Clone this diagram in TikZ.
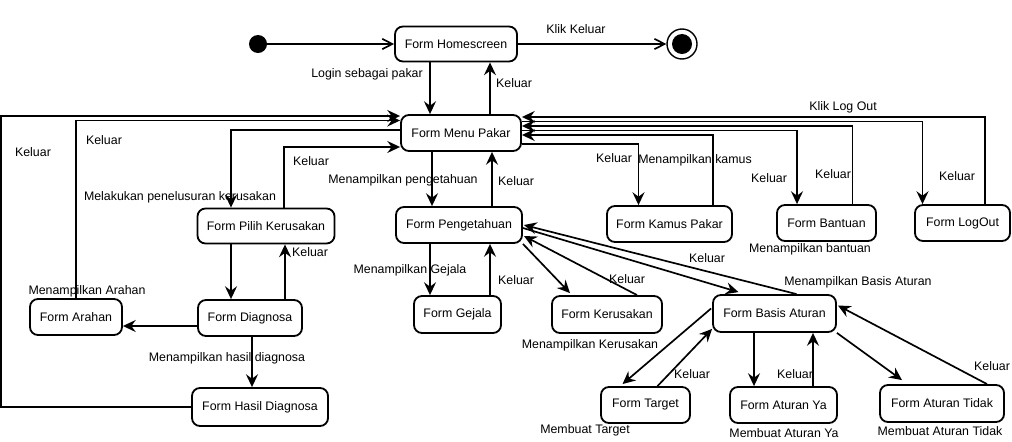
\documentclass[tikz,border=0pt]{standalone}
\usepackage{fontspec}
\setmainfont{Liberation Sans}
\usepackage{tikz}
\usetikzlibrary{
  arrows.meta,
  positioning,
  calc
}
\tikzset{
  formbox/.style={
    draw=black,
    fill=white,
    rounded corners=2mm,
    line width=1.3pt,
    minimum height=9mm,
    align=center,
    font=\fontsize{8.8}{10}\selectfont,
    inner sep=1pt
  },
  lbl/.style={font=\fontsize{8.8}{10}\selectfont,inner sep=0pt},
  arrow/.style={-{Stealth[length=3.2mm,width=3mm,inset=1.1mm]},line width=1.2pt},
  openarrow/.style={-{Straight Barb[length=2.5mm,width=2.6mm]},line width=1.2pt}
}

\begin{document}
\begin{tikzpicture}[x=0.025cm,y=-0.025cm]
  \useasboundingbox (0,0) rectangle (1012,441);

  \node[circle,fill=black,minimum size=0.45cm,inner sep=0pt] (init) at (258,44) {};
  \node[formbox, minimum width=3.05cm, minimum height=0.875cm] (home) at (456,44) {Form Homescreen};
  \node[circle,draw=black,line width=1pt,minimum size=0.75cm,inner sep=0pt] (final) at (682,44) {};
  \node[circle,fill=black,minimum size=0.5cm,inner sep=0pt] (finaldot) at (final) {};

  \node[formbox, minimum width=3cm] (menu) at (461,133) {Form Menu Pakar};
  \node[formbox, minimum width=3.425cm, minimum height=0.875cm] (pilih) at (266,226) {Form Pilih Kerusakan};
  \node[formbox, minimum width=2.6cm] (diag) at (250,318) {Form Diagnosa};
  \node[formbox, minimum width=2.3cm] (arahan) at (76,317) {Form Arahan};
  \node[formbox, minimum width=3.4cm, minimum height=0.95cm] (hasil) at (260,407) {Form Hasil Diagnosa};
  \node[formbox, minimum width=3.15cm] (peng) at (459,225) {Form Pengetahuan};
  \node[formbox, minimum width=2.175cm, minimum height=0.925cm] (gejala) at (457.5,314.5) {Form Gejala};
  \node[formbox, minimum width=2.75cm, minimum height=0.925cm] (kerusakan) at (607,314.5) {Form Kerusakan};
  \node[formbox, minimum width=3.075cm, minimum height=0.925cm] (basis) at (774.5,313.5) {Form Basis Aturan};
  \node[formbox, minimum width=2.225cm] (target) at (645.5,405) {Form Target};
  \node[formbox, minimum width=2.675cm] (ya) at (783.5,405) {Form Aturan Ya};
  \node[formbox, minimum width=3.1cm, minimum height=0.925cm] (tidak) at (942,403.5) {Form Aturan Tidak};
  \node[formbox, minimum width=3.125cm] (kamus) at (669.5,224) {Form Kamus Pakar};
  \node[formbox, minimum width=2.475cm] (bantuan) at (826.5,223) {Form Bantuan};
  \node[formbox, minimum width=2.375cm] (logout) at (962.5,223) {Form LogOut};

  \draw[openarrow] (init) -- (home);
  \draw[openarrow] (home) -- (final);
  \draw[arrow] ($(home.south)+(-26,0)$) -- ($(menu.north)+(-31,0)$);
  \draw[arrow] ($(menu.north)+(29,0)$) -- ($(home.south)+(34,0)$);

  \draw[arrow] (hasil.west) -- ++(-190,0) |- ($(menu.west)+(0,-17)$);
  \draw[arrow] (arahan.north) |- ($(menu.west)+(0,-12.5)$);
  \draw[arrow] ($(menu.west)+(0,-3)$) -| ($(pilih.north)+(-35,0)$);
  \draw[arrow] ($(pilih.north)+(18,0)$) |- ($(menu.west)+(0,14)$);
  \draw[arrow] ($(pilih.south)+(-35,0)$) -- ($(diag.north)+(-19,0)$);
  \draw[arrow] ($(diag.north)+(35,0)$) -- ($(pilih.south)+(19,0)$);
  \draw[arrow] ($(diag.west)+(0,8)$) -- ($(arahan.east)+(0,9)$);
  \draw[arrow] ($(diag.south)+(2,0)$) -- ($(hasil.north)+(-8,0)$);

  \draw[arrow] ($(menu.south)+(-29,0)$) -- ($(peng.north)+(-27,0)$);
  \draw[arrow] ($(peng.north)+(33,0)$) -- ($(menu.south)+(31,0)$);
  \draw[arrow] ($(peng.south)+(-29,0)$) -- ($(gejala.north)+(-27.5,0)$);
  \draw[arrow] ($(gejala.north)+(32.5,0)$) -- ($(peng.south)+(31,0)$);
  \draw[arrow] (peng.south east) -- ($(kerusakan.north)+(-37,-2)$);
  \draw[arrow] ($(kerusakan.north)+(30,0)$) -- ($(peng.east)+(1,11)$);
  \draw[arrow] ($(peng.east)+(0,3)$) -- ($(basis.north)+(-36,-2)$);
  \draw[arrow] ($(basis.north)+(22,0)$) -- ($(peng.east)+(1,0)$);

  \draw[arrow] ($(basis.west)+(-1,-5)$) -- ($(target.north)+(-23,-2)$);
  \draw[arrow] ($(target.north)+(12,0)$) -- ($(basis.south west)+(0,-4)$);
  \draw[arrow] ($(basis.south)+(-20.5,0)$) -- ($(ya.north)+(-29.5,0)$);
  \draw[arrow] ($(ya.north)+(29.5,0)$) -- ($(basis.south)+(38.5,0)$);
  \draw[arrow] (basis.south east) -- ($(tidak.north)+(-40,-4)$);
  \draw[arrow] ($(tidak.north)+(45,0)$) -- ($(basis.east)+(1,-8)$);

  \draw[arrow] ($(menu.east)+(0,11)$) -| ($(kamus.north)+(-31,0)$);
  \draw[arrow] ($(kamus.north)+(43.5,0)$) |- ($(menu.east)+(0,2)$);
  \draw[arrow] ($(menu.east)+(0,-2.5)$) -| ($(bantuan.north)+(-29.5,0)$);
  \draw[arrow] ($(bantuan.north)+(26,0)$) |- ($(menu.east)+(0,-7)$);
  \draw[arrow] ($(menu.east)+(0,-11.5)$) -| ($(logout.north)+(-40,0)$);
  \draw[arrow] ($(logout.north)+(22.5,0)$) |- ($(menu.east)+(0,-16)$);

  \node[lbl] (l1) at (576,29) {Klik Keluar};
  \node[lbl] (l2) at (367,74) {Login sebagai pakar};
  \node[lbl] (l3) at (514,83) {Keluar};
  \node[lbl] (l4) at (843,107) {Klik Log Out};
  \node[lbl] (l5) at (33,152) {Keluar};
  \node[lbl] (l6) at (104,140) {Keluar};
  \node[lbl] (l7) at (311,161) {Keluar};
  \node[lbl] (l8) at (180,197) {Melakukan penelusuran kerusakan};
  \node[lbl] (l9) at (403,180) {Menampilkan pengetahuan};
  \node[lbl] (l10) at (516,181) {Keluar};
  \node[lbl] (l11) at (614,158) {Keluar};
  \node[lbl] (l12) at (695,160) {Menampilkan kamus};
  \node[lbl] (l13) at (769,178) {Keluar};
  \node[lbl] (l14) at (833,174) {Keluar};
  \node[lbl] (l15) at (957,176) {Keluar};
  \node[lbl] (l16) at (810,249) {Menampilkan bantuan};
  \node[lbl] (l17) at (310,252) {Keluar};
  \node[lbl] (l18) at (410,270) {Menampilkan Gejala};
  \node[lbl] (l19) at (516,280) {Keluar};
  \node[lbl] (l20) at (627,279) {Keluar};
  \node[lbl] (l21) at (707,258) {Keluar};
  \node[lbl] (l22) at (858,282) {Menampilkan Basis Aturan};
  \node[lbl] (l23) at (87,291) {Menampilkan Arahan};
  \node[lbl] (l24) at (590,345) {Menampilkan Kerusakan};
  \node[lbl] (l25) at (227,358) {Menampilkan hasil diagnosa};
  \node[lbl] (l26) at (692,374) {Keluar};
  \node[lbl] (l27) at (795,374) {Keluar};
  \node[lbl] (l28) at (992,366) {Keluar};
  \node[lbl] (l29) at (585,430) {Membuat Target};
  \node[lbl] (l30) at (784,433) {Membuat Aturan Ya};
  \node[lbl] (l31) at (940,431) {Membuat Aturan Tidak};
\end{tikzpicture}
\end{document}
